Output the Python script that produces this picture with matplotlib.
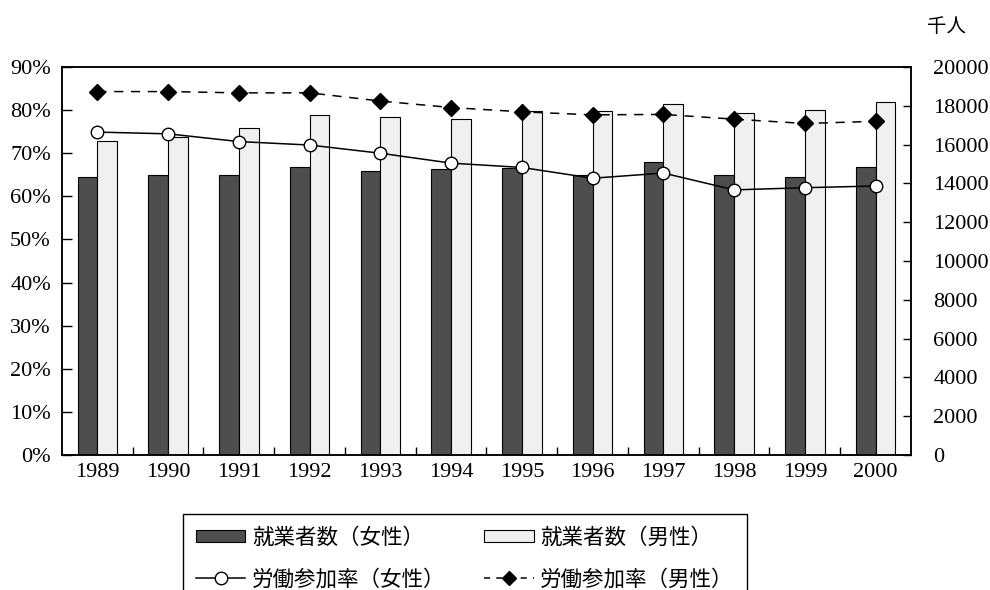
import numpy as np
import matplotlib
matplotlib.use('Agg')
import matplotlib.pyplot as plt
from matplotlib.patches import Patch
from matplotlib.lines import Line2D

################################################################################
# data
years = ['1989', '1990', '1991', '1992', '1993', '1994',
         '1995', '1996', '1997', '1998', '1999', '2000']
emp_female = [14330, 14420, 14430, 14860, 14660, 14760,
              14780, 14430, 15120, 14440, 14320, 14860]   # 千人
emp_male = [16200, 16400, 16870, 17530, 17410, 17300,
            17730, 17750, 18090, 17650, 17790, 18210]     # 千人
rate_female = [74.9, 74.5, 72.7, 71.9, 70.0, 67.7,
               66.7, 64.2, 65.4, 61.5, 62.0, 62.4]        # %
rate_male = [84.3, 84.3, 84.0, 84.0, 82.1, 80.6,
             79.6, 78.9, 79.0, 77.9, 76.9, 77.4]          # %

pct_ticks = list(range(0, 100, 10))
num_ticks = list(range(0, 22000, 2000))

lab_emp_f = '就業者数（女性）'
lab_emp_m = '就業者数（男性）'
lab_rate_f = '労働参加率（女性）'
lab_rate_m = '労働参加率（男性）'

################################################################################
SERIF = ['Liberation Serif', 'DejaVu Serif']
JP = ['Noto Sans CJK JP', 'DejaVu Sans']
plt.rcParams['font.family'] = SERIF

fig = plt.figure(figsize=(9.9, 5.9), dpi=100)
ax = fig.add_axes([62 / 990, 1 - 455 / 590, (911 - 62) / 990, (455 - 67) / 590])
ax2 = ax.twinx()

x = np.arange(len(years))
w = 0.28
c_f = '#4e4e4e'
c_m = '#f0f0f0'

# bars on right axis (thousands)
ax2.bar(x - w / 2, emp_female, w, color=c_f, edgecolor='black', linewidth=0.8)
ax2.bar(x + w / 2, emp_male, w, color=c_m, edgecolor='black', linewidth=0.8)
ax2.set_ylim(0, 20000)
ax2.set_yticks(num_ticks[:-1] if num_ticks[-1] > 20000 else num_ticks)
ax2.tick_params(axis='y', direction='in', length=6, width=1.0, pad=16,
                labelsize=16)

# lines on left axis (percent), drawn above bars
ax.set_zorder(ax2.get_zorder() + 1)
ax.patch.set_visible(False)
ax.plot(x, rate_female, color='black', linewidth=1.1, marker='o',
        markersize=9, markerfacecolor='white', markeredgecolor='black',
        markeredgewidth=1.0)
ax.plot(x, rate_male, color='black', linewidth=1.1, linestyle=(0, (6, 5)),
        marker='D', markersize=8, markerfacecolor='black',
        markeredgecolor='black')
ax.set_ylim(0, 90)
ax.set_yticks(pct_ticks)
ax.set_yticklabels(['%d%%' % v for v in pct_ticks])
ax.tick_params(axis='y', direction='in', length=7, width=1.0, pad=8,
               labelsize=16)

ax.set_xlim(-0.5, len(years) - 0.5)
ax.set_xticks(x)
ax.set_xticklabels(years)
ax.tick_params(axis='x', which='major', length=0, pad=6, labelsize=16)
ax.set_xticks(np.arange(0.5, len(years) - 0.5, 1.0), minor=True)
ax.tick_params(axis='x', which='minor', direction='in', length=6, width=1.0)

for a in (ax, ax2):
    for s in a.spines.values():
        s.set_linewidth(1.1)
        s.set_color('black')

fig.text(947 / 990, 1 - 27 / 590, '千人', ha='center', va='center',
         fontsize=14, family=JP)

handles = [
    Patch(facecolor=c_f, edgecolor='black', linewidth=0.8),
    Line2D([], [], color='black', linewidth=1.1, marker='o', markersize=9,
           markerfacecolor='white', markeredgecolor='black'),
    Patch(facecolor=c_m, edgecolor='black', linewidth=0.8),
    Line2D([], [], color='black', linewidth=1.1, linestyle=(0, (4, 4)),
           marker='D', markersize=7, markerfacecolor='black'),
]
labels = [lab_emp_f, lab_rate_f, lab_emp_m, lab_rate_m]
leg = fig.legend(handles, labels, ncol=2, loc='upper left',
                 bbox_to_anchor=(183 / 990, 1 - 514 / 590),
                 frameon=True, fancybox=False, edgecolor='black',
                 framealpha=1, prop={'family': JP, 'size': 15.5},
                 handlelength=2.3, handleheight=0.5, handletextpad=0.3,
                 columnspacing=1.8, labelspacing=0.9, borderpad=0.6,
                 borderaxespad=0)
leg.get_frame().set_linewidth(1.0)

fig.savefig('out.png', dpi=100)
